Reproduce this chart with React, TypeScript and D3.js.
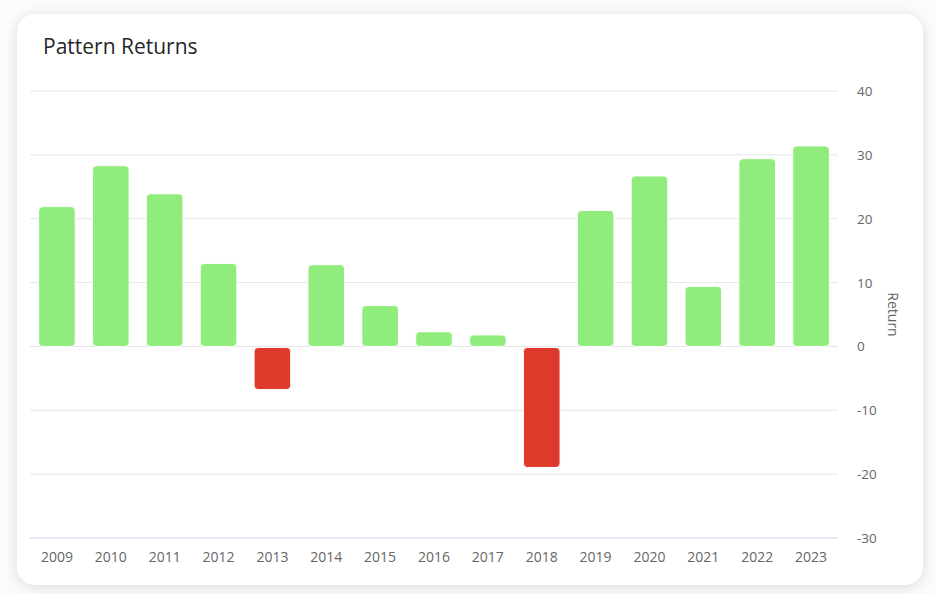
import { useMemo } from "react";
import { scaleBand, scaleLinear } from "d3";

const YEARS = [
  "2009", "2010", "2011", "2012", "2013", "2014", "2015", "2016",
  "2017", "2018", "2019", "2020", "2021", "2022", "2023",
];
const RETURNS = [21.9, 28.3, 23.9, 13.0, -6.6, 12.8, 6.4, 2.3, 1.8, -18.8, 21.3, 26.7, 9.4, 29.4, 31.4];
const Y_TICKS = [40, 30, 20, 10, 0, -10, -20, -30];

const WIDTH = 936;
const HEIGHT = 594;
const PLOT = { left: 30, right: 838, top: 91, bottom: 538 } as const;
const FONT = "'Open Sans', 'Noto Sans', sans-serif";
const UP = "#90ed7d";
const DOWN = "#dd3a2c";

export default function App() {
  const x = useMemo(
    () => scaleBand<string>().domain(YEARS).range([PLOT.left, PLOT.right]).padding(0),
    [],
  );
  const y = useMemo(() => scaleLinear().domain([-30, 40]).range([PLOT.bottom, PLOT.top]), []);
  const barWidth = x.bandwidth() * 0.68;

  return (
    <div
      style={{
        position: "absolute",
        left: 0,
        top: 0,
        width: WIDTH,
        height: HEIGHT,
        background: "#fbfbfb",
        overflow: "hidden",
      }}
    >
      <div
        style={{
          position: "absolute",
          left: 17,
          top: 14,
          width: 906,
          height: 571,
          borderRadius: 18,
          background: "#fff",
          boxShadow: "0 2px 14px rgba(0,0,0,0.13)",
        }}
      />
      <svg width={WIDTH} height={HEIGHT} style={{ position: "absolute", left: 0, top: 0 }}>
        <text x={43} y={54} fontFamily={FONT} fontSize={21} fontWeight={500} fill="#262626">
          Pattern Returns
        </text>

        {Y_TICKS.map((t) => (
          <g key={t}>
            {t !== -30 && (
              <line x1={PLOT.left} x2={PLOT.right} y1={y(t)} y2={y(t)} stroke="#e6e6e6" strokeWidth={1} />
            )}
            <text x={857} y={y(t) + 5} fontFamily={FONT} fontSize={13.5} fill="#666">
              {t}
            </text>
          </g>
        ))}
        <line x1={PLOT.left} x2={PLOT.right} y1={PLOT.bottom} y2={PLOT.bottom} stroke="#ccd6eb" strokeWidth={1} />

        {YEARS.map((yr, i) => {
          const v = RETURNS[i];
          const cx = (x(yr) ?? 0) + x.bandwidth() / 2;
          const top = v >= 0 ? y(v) : y(0) + 1;
          const h = Math.abs(y(v) - y(0));
          return (
            <rect
              key={yr}
              x={cx - barWidth / 2}
              y={top}
              width={barWidth}
              height={h}
              rx={4}
              ry={4}
              fill={v >= 0 ? UP : DOWN}
              stroke="#fff"
              strokeWidth={1}
            />
          );
        })}

        {YEARS.map((yr) => (
          <text
            key={yr}
            x={(x(yr) ?? 0) + x.bandwidth() / 2}
            y={562}
            textAnchor="middle"
            fontFamily={FONT}
            fontSize={14}
            fill="#666"
          >
            {yr}
          </text>
        ))}

        <text
          transform={`translate(888, ${(PLOT.top + PLOT.bottom) / 2}) rotate(90)`}
          textAnchor="middle"
          fontFamily={FONT}
          fontSize={14}
          fill="#666"
        >
          Return
        </text>
      </svg>
    </div>
  );
}
